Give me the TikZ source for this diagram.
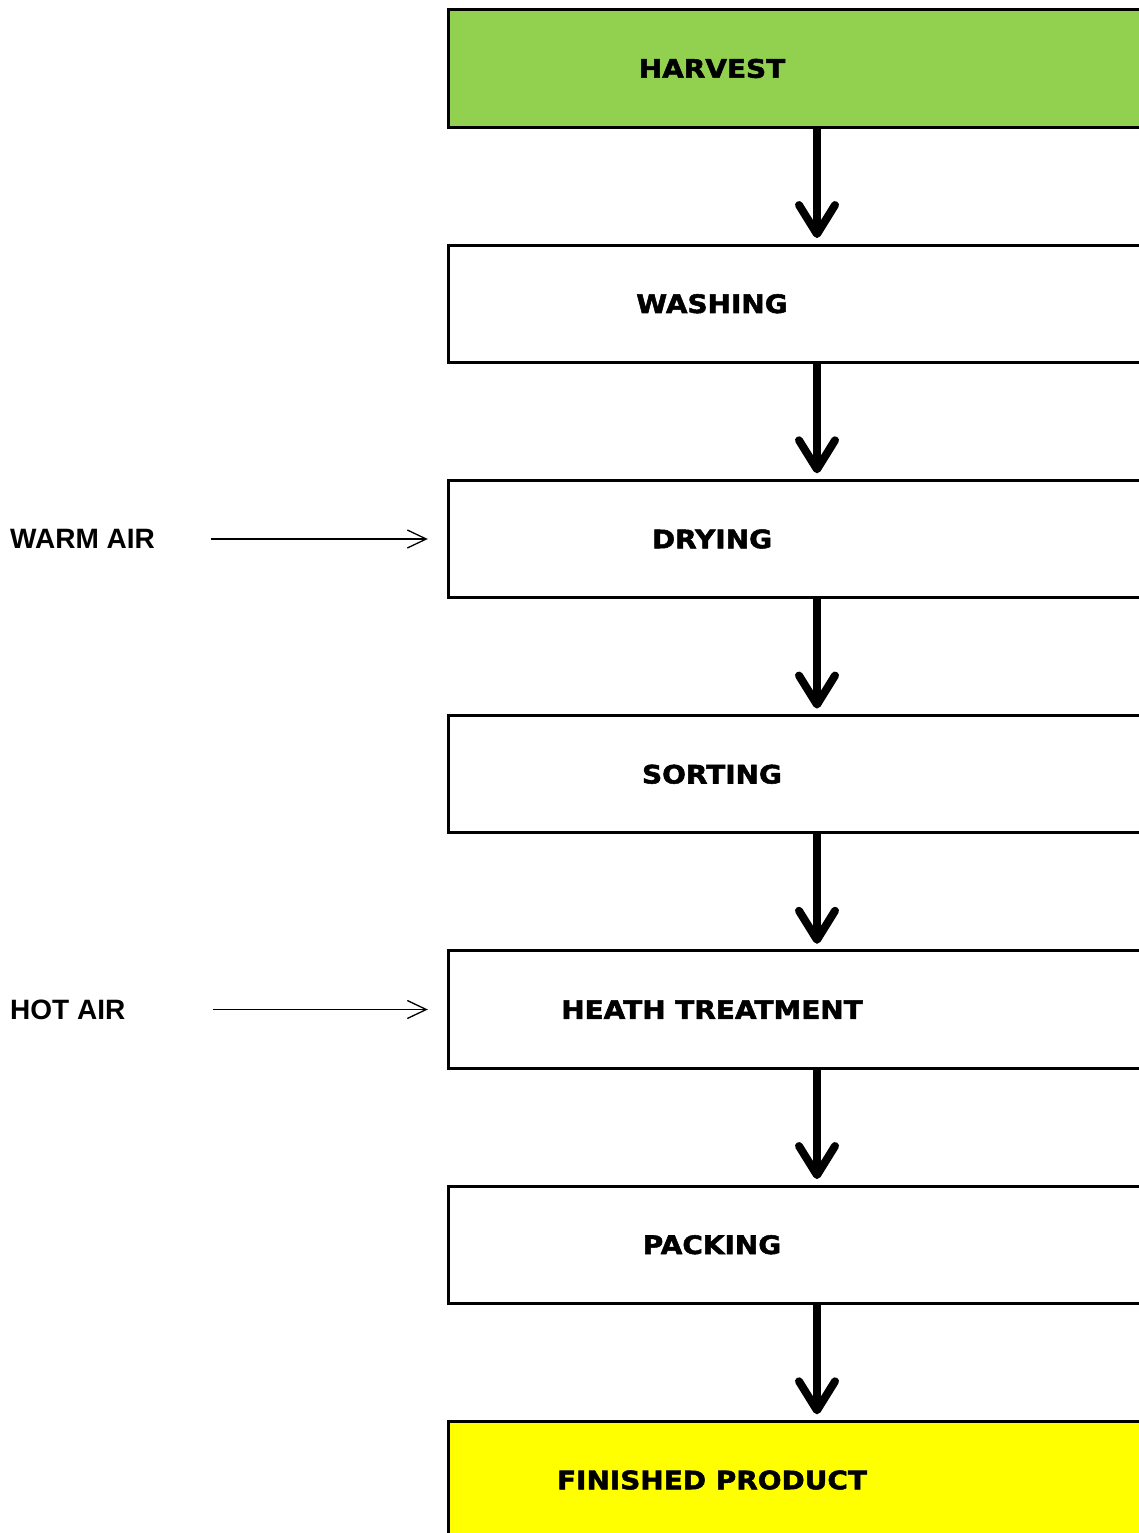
\documentclass[tikz,border=0pt]{standalone}
\usepackage{fontspec}
\usetikzlibrary{arrows.meta,backgrounds}
\newfontfamily\stagefont[FakeStretch=1.1,FakeBold=2]{DejaVu Sans}
\newfontfamily\labelfont{Liberation Sans}
\definecolor{harvestgreen}{HTML}{92D050}
\definecolor{finishedyellow}{HTML}{FFFF00}

\begin{document}
\begin{tikzpicture}[x=1pt, y=-1pt,
    stage/.style={minimum width=526pt, minimum height=117pt, inner sep=0pt,
      font=\stagefont\bfseries\fontsize{25.4}{30}\selectfont},
    stagebox/.style={draw=black, line width=3pt},
    flow/.style={line width=8pt, -{Straight Barb[length=29pt,width=36pt,round]}},
    airlabel/.style={anchor=west, inner sep=0pt,
      font=\labelfont\bfseries\fontsize{28}{32}\selectfont},
    airflow/.style={line width=1.3pt, -{Straight Barb[length=19pt,width=18pt]}}]
  \useasboundingbox (0,0) rectangle (1139,1533);
  % stages
  \node[stage] (harvest)  at (712,68.5)   {HARVEST};
  \node[stage] (washing)  at (712,303.75) {WASHING};
  \node[stage] (drying)   at (712,539)    {DRYING};
  \node[stage] (sorting)  at (712,774.25) {SORTING};
  \node[stage] (heat)     at (712,1009.5) {HEATH TREATMENT};
  \node[stage] (packing)  at (712,1244.75){PACKING};
  \node[stage] (finished) at (712,1480)   {FINISHED PRODUCT};
  \begin{scope}[on background layer]
    \foreach \stagename/\stagecolor in {harvest/harvestgreen, washing/white,
        drying/white, sorting/white, heat/white, packing/white,
        finished/finishedyellow}
      \draw[stagebox, fill=\stagecolor] (\stagename.north west)
        rectangle ([xshift=200pt]\stagename.south east);
  \end{scope}
  % flow arrows
  \draw[flow] ([xshift=105pt]harvest.south) -- ([xshift=105pt,yshift=7pt]washing.north);
  \draw[flow] ([xshift=105pt]washing.south) -- ([xshift=105pt,yshift=7pt]drying.north);
  \draw[flow] ([xshift=105pt]drying.south)  -- ([xshift=105pt,yshift=7pt]sorting.north);
  \draw[flow] ([xshift=105pt]sorting.south) -- ([xshift=105pt,yshift=7pt]heat.north);
  \draw[flow] ([xshift=105pt]heat.south)    -- ([xshift=105pt,yshift=7pt]packing.north);
  \draw[flow] ([xshift=105pt]packing.south) -- ([xshift=105pt,yshift=7pt]finished.north);
  % air inputs
  \node[airlabel] (warm) at (10,539)    {WARM AIR};
  \node[airlabel] (hot)  at (10,1009.5) {HOT AIR};
  \draw[airflow] ([xshift=56pt]warm.east) -- ([xshift=-21pt]drying.west);
  \draw[airflow] ([xshift=87pt]hot.east)  -- ([xshift=-21pt]heat.west);
\end{tikzpicture}
\end{document}
